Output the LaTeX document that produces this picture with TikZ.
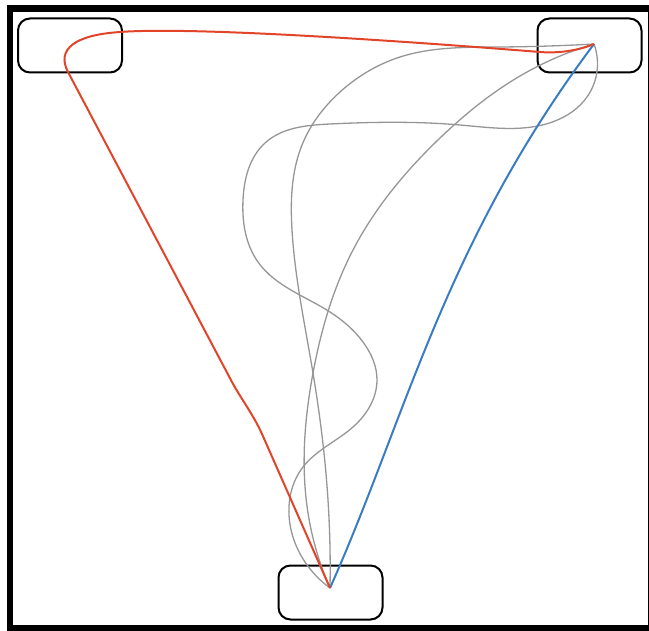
\documentclass[tikz,border=0pt]{standalone}
\usetikzlibrary{hobby}
\begin{document}
\begin{tikzpicture}[x=1pt,y=-1pt,
  box/.style={draw=black, line width=2pt, rounded corners=12pt, minimum width=104pt, minimum height=54pt, inner sep=0pt},
  redc/.style={draw={rgb,255:red,226;green,68;blue,42}, line width=2pt},
  bluec/.style={draw={rgb,255:red,58;green,124;blue,196}, line width=2pt},
  grayc/.style={draw={rgb,255:red,150;green,150;blue,150}, line width=1.3pt, use Hobby shortcut},
  frame/.style={draw=black, line width=6.5pt}]
\useasboundingbox (0,0) rectangle (649,631);
\clip (0,0) rectangle (649,631);
\draw[frame] (10,8.5) rectangle (651,628);
\node[box] (tl) at (70,45.5) {};
\node[box] (tr) at (589.5,45.5) {};
\node[box] (bt) at (330.5,592.5) {};
\coordinate (pB) at (330,588);
\coordinate (pT) at (594,44);
% gray curves
\draw[grayc] (pB) .. (305,562) .. (289,515) .. (303,467) .. (353,427) .. (377,380) .. (363,342) .. (330,312) .. (258,262) .. (243,200) .. (265,143) .. (330,124) .. (460,125) .. (555,121) .. (587,97) .. (pT);
\draw[grayc] (pB) .. (328,500) .. (313,373) .. (292,230) .. (302,145) .. (340,92) .. (400,57) .. (500,47) .. (pT);
\draw[grayc] (pB) .. (308,513) .. (313,373) .. (353,250) .. (440,138) .. (520,76) .. (pT);
% blue
\draw[bluec] (pB) .. controls (406,418) and (444,244) .. (pT);
% red
\draw[redc] (pB) -- (262,434) .. controls (253,414) and (240.5,398) .. (232,382) -- (68,72)
  .. controls (56,49) and (75,35) .. (120,32)
  .. controls (200,26) and (440,44) .. (540,52)
  .. controls (560,53.6) and (580,50) .. (pT);
\end{tikzpicture}
\end{document}
